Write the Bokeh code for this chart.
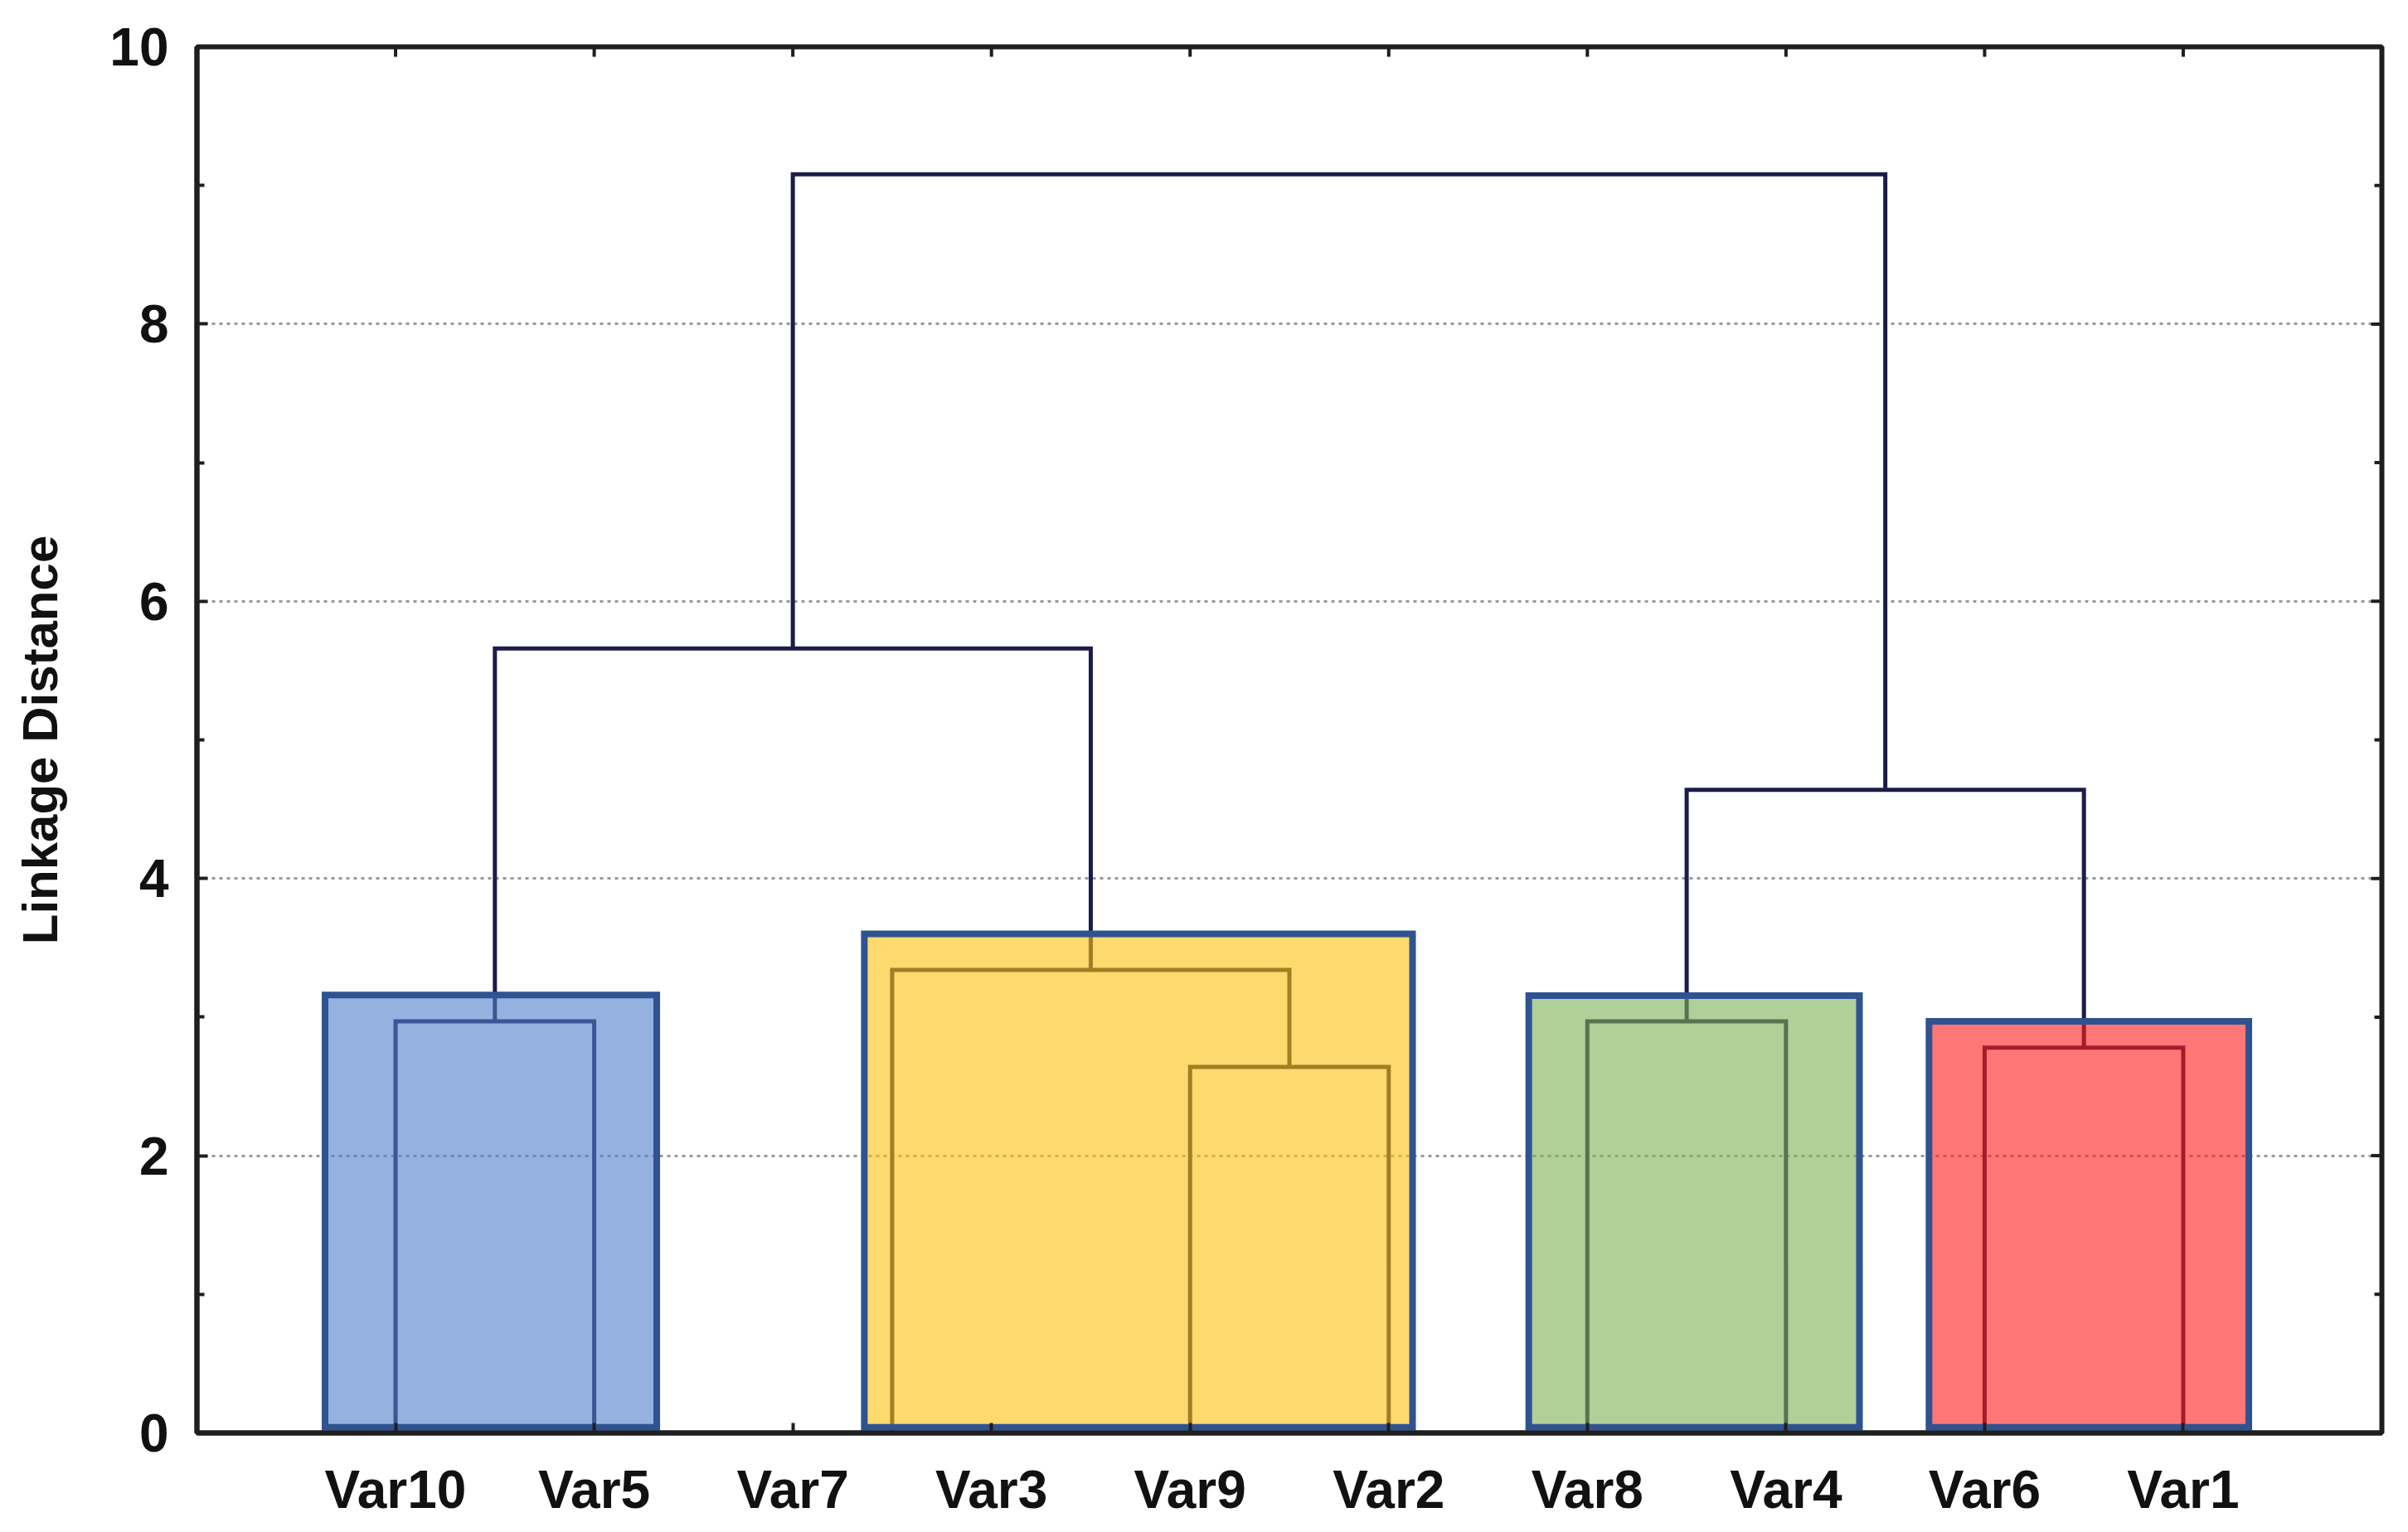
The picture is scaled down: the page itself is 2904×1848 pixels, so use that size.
import math
from bokeh.plotting import figure
from bokeh.models import LinearAxis, FixedTicker, ColumnDataSource, Range1d
from bokeh.embed import file_html
from bokeh.resources import INLINE

# ---- data ----
leaves = ["Var10", "Var5", "Var7", "Var3", "Var9", "Var2", "Var8", "Var4", "Var6", "Var1"]
leaf_pos = [1, 2, 3, 4, 5, 6, 7, 8, 9, 10]

# dendrogram links: left x, right x, merge height, bottom of left leg, bottom of right leg
link_xl = [1.0, 5.0, 3.5, 7.0, 9.0, 1.5, 7.5, 3.0]
link_xr = [2.0, 6.0, 5.5, 8.0, 10.0, 4.5, 9.5, 8.5]
link_h = [2.97, 2.64, 3.34, 2.97, 2.78, 5.66, 4.64, 9.08]
link_bl = [0.0, 0.0, 0.0, 0.0, 0.0, 2.97, 2.97, 5.66]
link_br = [0.0, 0.0, 2.64, 0.0, 0.0, 3.34, 2.78, 4.64]

# cluster highlight boxes
box_left = [0.645, 3.36, 6.705, 8.72]
box_right = [2.315, 6.12, 8.37, 10.33]
box_top = [3.16, 3.60, 3.155, 2.97]
box_bottom = [0.04, 0.04, 0.04, 0.04]
box_color = ["#4E7DCA", "#FCC00D", "#7BAF55", "#FF1A1A"]

y_ticks = [0, 2, 4, 6, 8, 10]
y_minor = [1, 3, 5, 7, 9]

X_MAX = len(leaves) + 1
Y_MAX = 10

FONT = "Liberation Sans"
NAVY = "#1C1C48"
AXIS = "#1E1E1E"

p = figure(width=2888, height=1840, output_backend="svg", toolbar_location=None,
           x_range=Range1d(0, X_MAX), y_range=Range1d(0, Y_MAX),
           min_border_left=237, min_border_right=16, min_border_top=56, min_border_bottom=112,
           x_axis_location=None, y_axis_location=None)
p.outline_line_color = AXIS
p.outline_line_width = 6
p.background_fill_color = "white"


def style_axis(ax):
    ax.axis_line_color = AXIS
    ax.axis_line_width = 6
    ax.major_tick_line_color = AXIS
    ax.major_tick_line_width = 4
    ax.minor_tick_line_color = AXIS
    ax.minor_tick_line_width = 4
    ax.major_tick_out = 0
    ax.minor_tick_out = 0
    ax.major_label_text_font = FONT
    ax.major_label_text_font_style = "bold"
    ax.major_label_text_color = "#111111"
    ax.major_label_text_font_size = "64px"


xt = FixedTicker(ticks=leaf_pos)
yt = FixedTicker(ticks=y_ticks, minor_ticks=y_minor)
overrides = {pos: name for pos, name in zip(leaf_pos, leaves)}

xb = LinearAxis(ticker=xt, major_label_overrides=overrides)
style_axis(xb)
xb.major_tick_in = 12
xb.major_label_standoff = 32
p.add_layout(xb, "below")

yl = LinearAxis(ticker=yt, axis_label="Linkage Distance")
style_axis(yl)
yl.major_tick_in = 13
yl.minor_tick_in = 9
yl.major_label_standoff = 34
yl.axis_label_standoff = 47
yl.axis_label_text_font = FONT
yl.axis_label_text_font_style = "bold"
yl.axis_label_text_font_size = "60px"
yl.axis_label_text_color = "#111111"
p.add_layout(yl, "left")

# inward ticks on the top and right frame edges (no labels there)
p.ray(x=leaf_pos, y=[Y_MAX] * len(leaf_pos), length=12, length_units="screen",
      angle=-math.pi / 2, line_color=AXIS, line_width=4)
p.ray(x=[X_MAX] * len(y_ticks), y=y_ticks, length=13, length_units="screen",
      angle=math.pi, line_color=AXIS, line_width=4)
p.ray(x=[X_MAX] * len(y_minor), y=y_minor, length=9, length_units="screen",
      angle=math.pi, line_color=AXIS, line_width=4)

# grid
p.xgrid.visible = False
p.ygrid.ticker = FixedTicker(ticks=y_ticks)
p.ygrid.grid_line_color = "#9A9A9A"
p.ygrid.grid_line_width = 3
p.ygrid.grid_line_dash = "4 5"

# dendrogram
xs = [[a, a, b, b] for a, b in zip(link_xl, link_xr)]
ys = [[bl, h, h, br] for bl, h, br in zip(link_bl, link_h, link_br)]
p.multi_line(xs=xs, ys=ys, line_color=NAVY, line_width=5, line_join="miter")

# cluster boxes: translucent fill over the tree, opaque border
src = ColumnDataSource(dict(left=box_left, right=box_right, top=box_top,
                            bottom=box_bottom, color=box_color))
p.quad(left="left", right="right", top="top", bottom="bottom", source=src,
       fill_color="color", fill_alpha=0.6, line_color=None)
p.quad(left="left", right="right", top="top", bottom="bottom", source=src,
       fill_color=None, line_color="#2F5291", line_width=8, line_join="miter")

open("out.html", "w").write(file_html(p, INLINE))
